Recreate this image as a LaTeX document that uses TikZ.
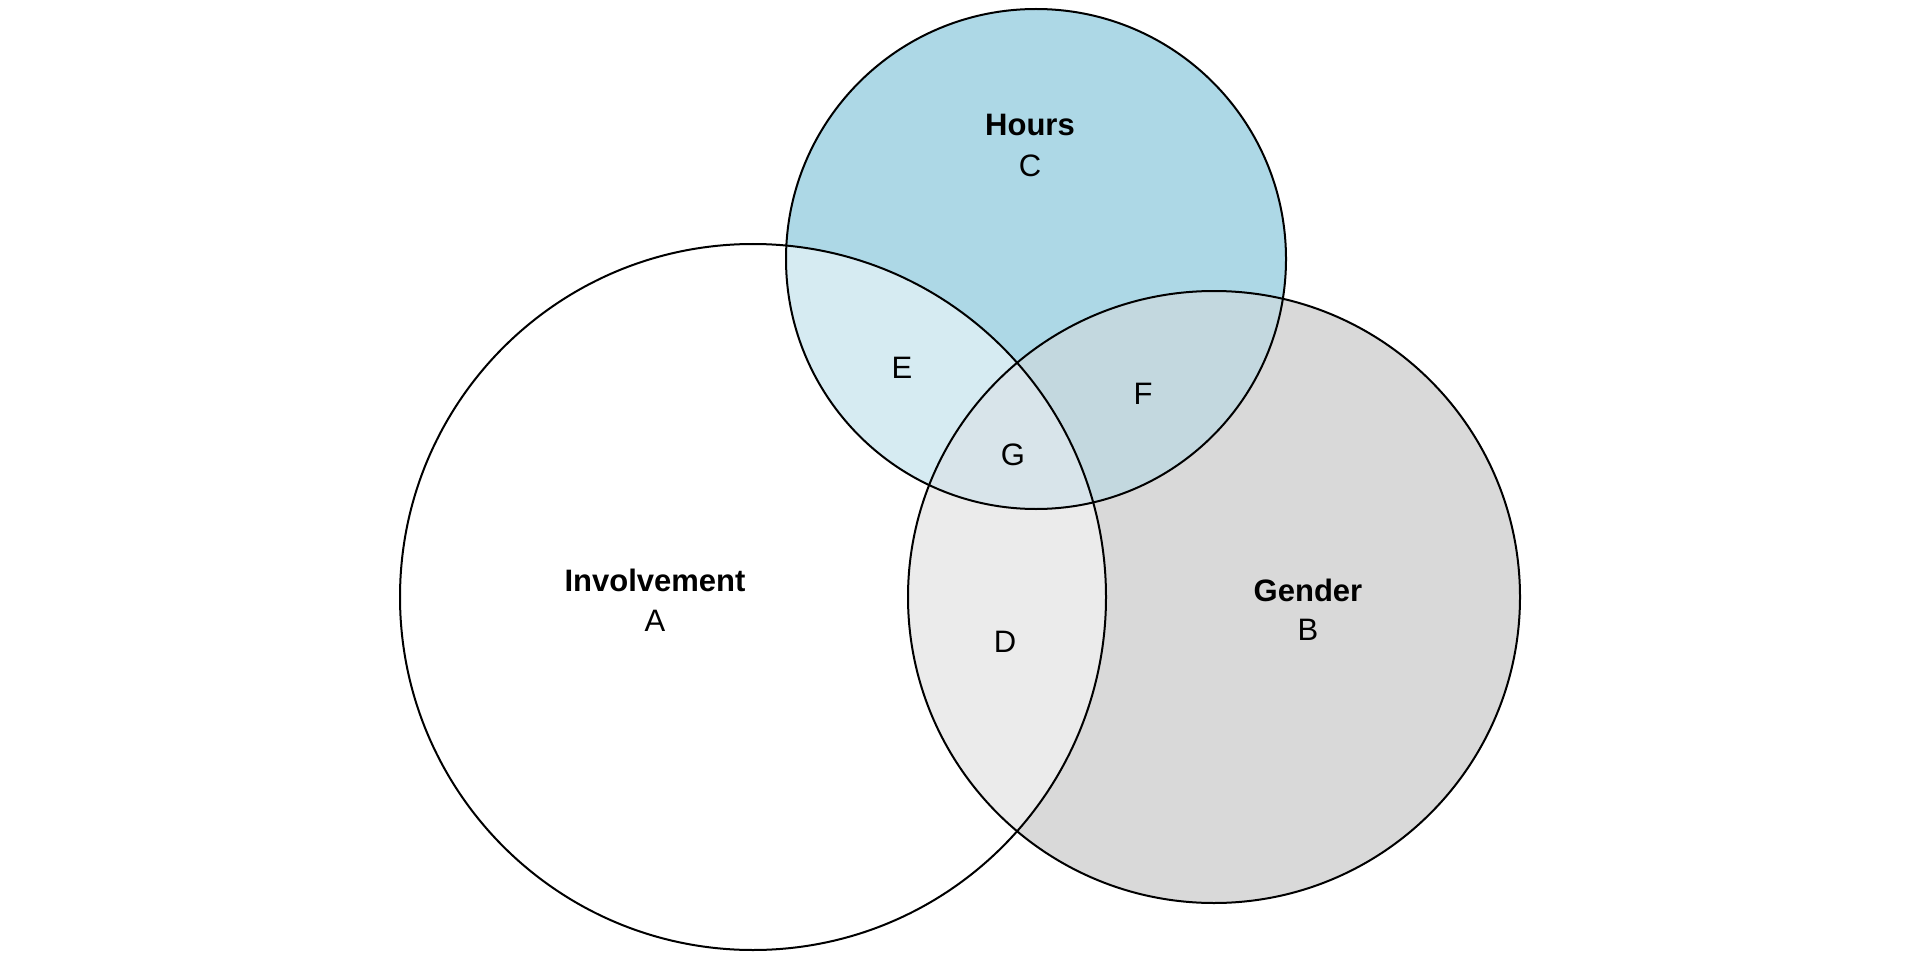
\documentclass[tikz,border=0pt]{standalone}
\usepackage{fontspec}
\setmainfont{Liberation Sans}
\definecolor{cBonly}{RGB}{217,217,217}
\definecolor{cConly}{RGB}{173,216,230}
\definecolor{cD}{RGB}{235,235,235}
\definecolor{cE}{RGB}{214,235,242}
\definecolor{cF}{RGB}{195,216,223}
\definecolor{cG}{RGB}{216,228,234}
\begin{document}
\begin{tikzpicture}[x=1pt,y=-1pt,
  setline/.style={draw=black,line width=2pt},
  setname/.style={anchor=base,font=\fontsize{31}{37}\selectfont\bfseries,inner sep=0pt},
  setlabel/.style={anchor=base,font=\fontsize{31}{37}\selectfont,inner sep=0pt}]
\fill[white] (0,0) rectangle (1920,960);
\useasboundingbox (0,0) rectangle (1920,960);
\coordinate (cA) at (753,597);
\coordinate (cB) at (1214,597);
\coordinate (cC) at (1036,259);
\def\rA{353}\def\rB{306}\def\rC{250}
% regions
\fill[cBonly] (cB) circle (\rB);
\fill[cConly] (cC) circle (\rC);
\begin{scope}
  \clip (cB) circle (\rB);
  \fill[cF] (cC) circle (\rC);
\end{scope}
\begin{scope}
  \clip (cA) circle (\rA);
  \fill[white] (cA) circle (\rA);
  \fill[cD] (cB) circle (\rB);
  \fill[cE] (cC) circle (\rC);
  \clip (cB) circle (\rB);
  \fill[cG] (cC) circle (\rC);
\end{scope}
% outlines
\draw[setline] (cA) circle (\rA);
\draw[setline] (cB) circle (\rB);
\draw[setline] (cC) circle (\rC);
% texts
\node[setname] (nA) at (655,591) {Involvement};
\node[setlabel] (lA) at (655,631) {A};
\node[setname] (nC) at (1030,136) {Hours};
\node[setlabel] (lC) at (1030,177) {C};
\node[setname] (nB) at (1308,601) {Gender};
\node[setlabel] (lB) at (1308,640) {B};
\node[setlabel] (lD) at (1005,652) {D};
\node[setlabel] (lE) at (902,378) {E};
\node[setlabel] (lF) at (1143,404) {F};
\node[setlabel] (lG) at (1013,465) {G};
\end{tikzpicture}
\end{document}
